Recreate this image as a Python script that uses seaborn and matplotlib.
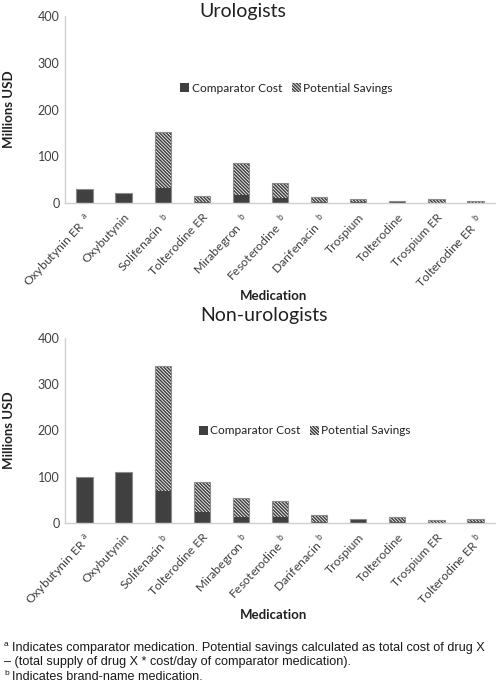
import matplotlib
matplotlib.use('Agg')
import matplotlib.pyplot as plt
from matplotlib.patches import Patch
import seaborn as sns
import numpy as np

meds = ['Oxybutynin ER', 'Oxybutynin', 'Solifenacin', 'Tolterodine ER', 'Mirabegron',
        'Fesoterodine', 'Darifenacin', 'Trospium', 'Tolterodine', 'Trospium ER', 'Tolterodine ER 2']
sup_marks = ['a', '', 'b', '', 'b', 'b', 'b', '', '', '', 'b']

# values in millions USD
uro_comparator = [31, 21, 33, 2, 18, 10, 2, 3, 2, 1, 1]
uro_savings = [0, 0, 119, 12, 67, 33, 10, 5, 1.5, 8, 2.5]
non_comparator = [99, 111, 70, 24, 12, 13, 3, 9, 3, 1, 2]
non_savings = [0, 0, 268, 65, 43, 35, 15, 0, 11, 5.5, 6.5]

yticks = [0, 100, 200, 300, 400]

dark = '#404040'
edge = '#8c8c8c'
hatch = '\\' * 10

sns.set_style('white')
plt.rcParams['font.family'] = ['Lato', 'DejaVu Sans']
plt.rcParams['hatch.linewidth'] = 1.1

fig = plt.figure(figsize=(5.04, 6.84), dpi=100)
ax_top = fig.add_axes([0.129, 0.7032, 0.853, 0.2734])
ax_bot = fig.add_axes([0.129, 0.2354, 0.853, 0.2709])


def draw_panel(ax, comp, sav, title, title_x, title_y, leg_xy, space):
    total = np.array(comp) + np.array(sav)
    sns.barplot(x=meds, y=total, color='white', saturation=1, width=0.42, errorbar=None,
                hatch=hatch, edgecolor=dark, linewidth=0, ax=ax)
    sns.barplot(x=meds, y=comp, color=dark, saturation=1, width=0.42, errorbar=None,
                edgecolor=dark, linewidth=0, ax=ax)
    sns.barplot(x=meds, y=total, color=edge, fill=False, width=0.42, errorbar=None,
                linewidth=0.8, ax=ax)
    ax.set_ylim(0, 400)
    ax.set_xlim(-0.5, 10.5)
    ax.set_yticks(yticks)
    ax.set_yticklabels([str(v) for v in yticks], fontsize=9, color='#404040')
    labels = []
    for m, s in zip(meds, sup_marks):
        m = m.replace(' 2', '')
        if s:
            labels.append(m + space + r'$^{\mathregular{' + s + '}}$')
        else:
            labels.append(m)
    ax.set_xticks(range(len(meds)))
    ax.set_xticklabels(labels, rotation=47, ha='right', rotation_mode='anchor',
                       fontsize=8.8, color='#404040')
    ax.tick_params(axis='both', length=0, pad=4)
    ax.tick_params(axis='x', pad=6)
    for side in ['top', 'right']:
        ax.spines[side].set_visible(False)
    for side in ['left', 'bottom']:
        ax.spines[side].set_color('#d0d0d0')
        ax.spines[side].set_linewidth(1.0)
    ax.set_ylabel('Millions USD', fontsize=9.5, fontweight='bold', color='#202020')
    ax.yaxis.set_label_coords(-0.116, 0.5)
    ax.set_xlabel('Medication', fontsize=9.5, fontweight='bold', color='#202020')
    ax.xaxis.set_label_coords(0.484, -0.465)
    handles = [Patch(facecolor=dark, edgecolor=dark, linewidth=0),
               Patch(facecolor='white', edgecolor=dark, hatch='\\' * 10, linewidth=0)]
    ax.legend(handles, ['Comparator Cost', 'Potential Savings'], ncol=2, frameon=False,
              loc='center', bbox_to_anchor=leg_xy, fontsize=8.6, handlelength=0.75,
              handleheight=0.75, handletextpad=0.2, columnspacing=0.8, labelcolor='#202020')
    fig.text(title_x, title_y, title, ha='center', va='center', fontsize=14, color='#202020')


draw_panel(ax_top, uro_comparator, uro_savings, 'Urologists', 243 / 504, 1 - 11 / 684,
           (0.515, 0.615), '  ')
draw_panel(ax_bot, non_comparator, non_savings, 'Non-urologists', 264 / 504, 1 - 315 / 684,
           (0.558, 0.497), ' ')

# footnotes
note_font = ['Liberation Sans', 'DejaVu Sans']
note_kw = dict(fontsize=9.1, family=note_font, va='baseline', color='#1a1a1a')
sup_kw = dict(fontsize=6, family=note_font, va='baseline', color='#1a1a1a')
fig.text(0.008, 1 - 646 / 684, 'a', **sup_kw)
fig.text(0.024, 1 - 651 / 684,
         'Indicates comparator medication. Potential savings calculated as total cost of drug X',
         **note_kw)
fig.text(0.008, 1 - 665.5 / 684,
         '\u2013 (total supply of drug X * cost/day of comparator medication).', **note_kw)
fig.text(0.008, 1 - 675 / 684, 'b', **sup_kw)
fig.text(0.024, 1 - 680 / 684, 'Indicates brand-name medication.', **note_kw)

fig.savefig('out.png', dpi=100)
